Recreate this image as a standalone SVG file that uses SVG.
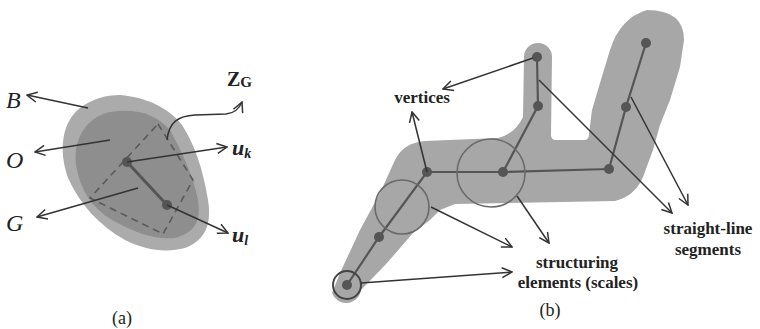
<svg xmlns="http://www.w3.org/2000/svg" width="760" height="329" viewBox="0 0 760 329">
<defs>
<style>
.lbl{font-family:"Liberation Serif","Times New Roman",serif;fill:#222}
.it{font-style:italic}
.bl{font-weight:bold}
.arr{fill:none;stroke:#333;stroke-width:1.5;marker-end:url(#ah)}
.skel{fill:none;stroke:#555;stroke-width:2.2}
.dot{fill:#555}
.se{fill:none;stroke:#6a6a6a;stroke-width:1.6}
</style>
<marker id="ah" viewBox="0 0 12 12" refX="11" refY="6" markerWidth="12" markerHeight="12" markerUnits="userSpaceOnUse" orient="auto">
<path d="M1,1 L11,6 L1,11" fill="none" stroke="#333" stroke-width="1.5"/>
</marker>
</defs>
<rect width="760" height="329" fill="#fff"/>

<!-- Panel (a) -->
<g id="blob-B">
<path d="M120,95 C145,97 168,107 182,125 C195,145 203,170 208,200 C212,225 205,240 185,248 C165,253 145,250 125,240 C100,226 80,205 68,178 C58,150 62,122 80,108 C92,99 105,95 120,95 Z" fill="#ababab"/>
</g>
<g id="region-O">
<path d="M110,112 C135,108 155,113 170,130 C182,152 193,175 198,200 C201,222 195,232 175,238 C155,240 135,233 112,220 C92,208 80,190 76,165 C73,140 85,118 110,112 Z" fill="#8e8e8e"/>
</g>
<g id="region-G">
<path d="M158,124 L193,180 L163,234 L90,198 Z" fill="none" stroke="#5a5a5a" stroke-width="1.6" stroke-dasharray="7,5"/>
</g>
<g id="segment-a">
<line x1="127" y1="162" x2="167" y2="205" stroke="#555" stroke-width="3"/>
<circle class="dot" cx="127" cy="162" r="5"/>
<circle class="dot" cx="167" cy="205" r="5"/>
</g>

<!-- Panel (b) -->
<g id="shape-b">
<path d="M332,293 L340,273 L360,230 L380,193 L395,160 Q403,143 425,141 L498,138 Q515,134 523,117 L524,57 A14,14 0 0 1 552,57 L551,135 Q551,140 556,140 L584,140 Q589,140 589,134 L592,110 L600,83 L610,50 Q620,18 647,10 Q684,10 684,40 L680,67 L670,100 L660,125 L653,150 L643,177 Q635,196 615,201 L455,204 L440,210 L430,220 L413,233 L387,263 L361,290 A15,15 0 0 1 332,293 Z" fill="#a7a7a7"/>
</g>
<g id="skeleton">
<polyline class="skel" points="347,285 379,237 427,172 503,172 609,169"/>
<polyline class="skel" points="503,172 538,106 537,57"/>
<polyline class="skel" points="609,169 626,107 646,43"/>
</g>
<g id="vertices-b">
<circle class="dot" cx="347" cy="285" r="5"/>
<circle class="dot" cx="379" cy="237" r="5"/>
<circle class="dot" cx="427" cy="172" r="5"/>
<circle class="dot" cx="503" cy="172" r="5"/>
<circle class="dot" cx="609" cy="169" r="5"/>
<circle class="dot" cx="538" cy="106" r="5"/>
<circle class="dot" cx="537" cy="57" r="5"/>
<circle class="dot" cx="626" cy="107" r="5"/>
<circle class="dot" cx="646" cy="43" r="5"/>
</g>
<g id="structuring-elements">
<circle cx="347" cy="285" r="14" fill="none" stroke="#444" stroke-width="2"/>
<circle class="se" cx="402" cy="207" r="27"/>
<circle class="se" cx="491" cy="173" r="34"/>
</g>

<g id="connectors">
<line class="arr" x1="88" y1="108" x2="27" y2="95"/>
<line class="arr" x1="110" y1="140" x2="35" y2="152"/>
<line class="arr" x1="138" y1="188" x2="37" y2="217"/>
<line class="arr" x1="127" y1="162" x2="227" y2="147"/>
<line class="arr" x1="167" y1="205" x2="228" y2="233"/>
<path class="arr" d="M167,140 C169,122 178,116 195,115 L226,114 C235,113 239,109 242,102"/>
<line class="arr" x1="533" y1="58" x2="443" y2="89"/>
<line class="arr" x1="427" y1="172" x2="412" y2="112"/>
<line class="arr" x1="539" y1="80" x2="672" y2="213"/>
<line class="arr" x1="631" y1="97" x2="688" y2="205"/>
<line class="arr" x1="361" y1="283" x2="512" y2="272"/>
<line class="arr" x1="431" y1="207" x2="512" y2="247"/>
<line class="arr" x1="517" y1="196" x2="549" y2="243"/>
</g>

<g id="labels">
<text class="lbl it" x="6" y="108" font-size="24">B</text>
<text class="lbl it" x="6" y="168" font-size="24">O</text>
<text class="lbl it" x="6" y="231" font-size="24">G</text>
<text class="lbl it bl" x="232" y="155" font-size="22">u<tspan font-size="14" dy="3">k</tspan></text>
<text class="lbl it bl" x="232" y="242" font-size="22">u<tspan font-size="14" dy="3">l</tspan></text>
<text class="lbl bl" x="227" y="86" font-size="20">Z<tspan font-size="15" dy="1">G</tspan></text>
<text class="lbl" x="122" y="324" font-size="18" text-anchor="middle">(a)</text>
<text class="lbl bl" x="422" y="103" font-size="17" text-anchor="middle">vertices</text>
<text class="lbl bl" x="708" y="234" font-size="17" text-anchor="middle">straight-line</text>
<text class="lbl bl" x="708" y="255" font-size="17" text-anchor="middle">segments</text>
<text class="lbl bl" x="577" y="268" font-size="17" text-anchor="middle">structuring</text>
<text class="lbl bl" x="578" y="288" font-size="17" text-anchor="middle">elements (scales)</text>
<text class="lbl" x="550" y="316" font-size="18" text-anchor="middle">(b)</text>
</g>
</svg>
